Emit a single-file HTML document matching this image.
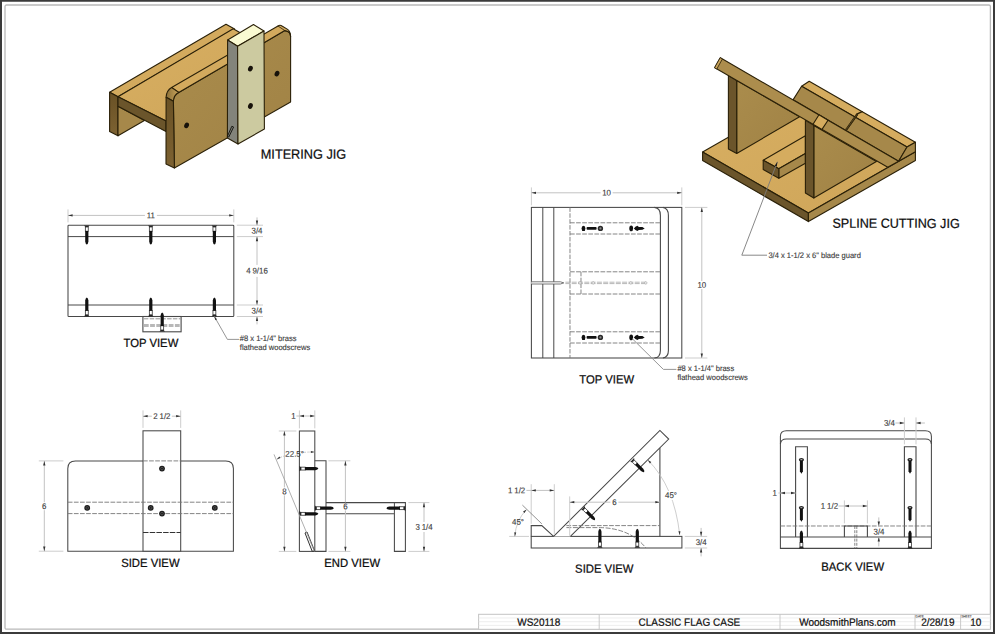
<!DOCTYPE html>
<html lang="en"><head><meta charset="utf-8"><title>Classic Flag Case - Jigs</title>
<style>
html,body{margin:0;padding:0;background:#fff;}
body{width:1000px;height:634px;overflow:hidden;}
svg{display:block;font-family:"Liberation Sans",Arial,Helvetica,sans-serif;}
.d text{word-spacing:-0.3px;}
</style></head><body>
<svg width="1000" height="634" viewBox="0 0 1000 634">
<rect x="0" y="0" width="1000" height="634" fill="#fff"/>
<path d="M0,0 H995 V634 H0 Z M2,1.8 V632 H993 V1.8 Z" fill="#3b3b3b" fill-rule="evenodd"/>
<rect x="5" y="5" width="985.4" height="624.2" rx="1.5" fill="none" stroke="#b9b9b9" stroke-width="1.3"/>
<rect x="478.6" y="614.3" width="511.8" height="15" fill="#fff" stroke="#c4c4c4" stroke-width="1"/>
<line x1="478.6" y1="618.0" x2="990.4" y2="618.0" stroke="#e6e6e6" stroke-width="0.7"/>
<line x1="478.6" y1="621.7" x2="990.4" y2="621.7" stroke="#e6e6e6" stroke-width="0.7"/>
<line x1="478.6" y1="625.4" x2="990.4" y2="625.4" stroke="#e6e6e6" stroke-width="0.7"/>
<line x1="599.2" y1="614.3" x2="599.2" y2="629.3" stroke="#c4c4c4" stroke-width="0.9"/>
<line x1="780" y1="614.3" x2="780" y2="629.3" stroke="#c4c4c4" stroke-width="0.9"/>
<line x1="915" y1="614.3" x2="915" y2="629.3" stroke="#c4c4c4" stroke-width="0.9"/>
<line x1="960.6" y1="614.3" x2="960.6" y2="629.3" stroke="#c4c4c4" stroke-width="0.9"/>
<text font-size="10" fill="#0c0c0c" text-anchor="middle" transform="translate(538.8 625.7) rotate(0.05) scale(1 1.05)" stroke="#0c0c0c" stroke-width="0.18">WS20118</text>
<text font-size="10" fill="#0c0c0c" text-anchor="middle" transform="translate(689.4 625.7) rotate(0.05) scale(1 1.05)" stroke="#0c0c0c" stroke-width="0.18">CLASSIC FLAG CASE</text>
<text font-size="10" fill="#0c0c0c" text-anchor="middle" transform="translate(847.4 625.7) rotate(0.05) scale(1 1.05)" stroke="#0c0c0c" stroke-width="0.18">WoodsmithPlans.com</text>
<text font-size="10" fill="#0c0c0c" text-anchor="middle" transform="translate(937.8 625.7) rotate(0.05) scale(1 1.05)" stroke="#0c0c0c" stroke-width="0.18">2/28/19</text>
<text font-size="10" fill="#0c0c0c" text-anchor="middle" transform="translate(975.7 625.7) rotate(0.05) scale(1 1.05)" stroke="#0c0c0c" stroke-width="0.18">10</text>
<text font-size="3.2" fill="#444" text-anchor="start" transform="translate(915.6 617.5) rotate(0.05) scale(1 1.05)" stroke="#3a3a3a" stroke-width="0.12">DATE</text>
<text font-size="3.2" fill="#444" text-anchor="start" transform="translate(961.2 617.5) rotate(0.05) scale(1 1.05)" stroke="#3a3a3a" stroke-width="0.12">SHEET</text>
<text font-size="12.7" fill="#0c0c0c" text-anchor="start" transform="translate(260.8 158.8) rotate(0.05) scale(1 1.05)" stroke="#0c0c0c" stroke-width="0.22">MITERING JIG</text>
<text font-size="12.6" fill="#0c0c0c" text-anchor="start" transform="translate(832.4 227.8) rotate(0.05) scale(1 1.05)" stroke="#0c0c0c" stroke-width="0.22">SPLINE CUTTING JIG</text>
<text font-size="11.3" fill="#0c0c0c" text-anchor="start" transform="translate(123.5 347.0) rotate(0.05) scale(1 1.05)" stroke="#0c0c0c" stroke-width="0.22">TOP VIEW</text>
<text font-size="11.3" fill="#0c0c0c" text-anchor="start" transform="translate(121.2 567.0) rotate(0.05) scale(1 1.05)" stroke="#0c0c0c" stroke-width="0.22">SIDE VIEW</text>
<text font-size="11.3" fill="#0c0c0c" text-anchor="start" transform="translate(324.3 567.0) rotate(0.05) scale(1 1.05)" stroke="#0c0c0c" stroke-width="0.22">END VIEW</text>
<text font-size="11.3" fill="#0c0c0c" text-anchor="start" transform="translate(579.3 383.4) rotate(0.05) scale(1 1.05)" stroke="#0c0c0c" stroke-width="0.22">TOP VIEW</text>
<text font-size="11.3" fill="#0c0c0c" text-anchor="start" transform="translate(575.1 572.8) rotate(0.05) scale(1 1.05)" stroke="#0c0c0c" stroke-width="0.22">SIDE VIEW</text>
<text font-size="11.3" fill="#0c0c0c" text-anchor="start" transform="translate(821.3 570.7) rotate(0.05) scale(1 1.05)" stroke="#0c0c0c" stroke-width="0.22">BACK VIEW</text>
<g class="d" transform="translate(0.4,0.4)">
<rect x="67.6" y="224.8" width="165.8" height="91.3" rx="0.8" fill="#fff" stroke="#484848" stroke-width="1.05"/>
<line x1="67.6" y1="236.2" x2="233.4" y2="236.2" stroke="#484848" stroke-width="1.0"/>
<line x1="67.6" y1="304.6" x2="233.4" y2="304.6" stroke="#484848" stroke-width="1.0"/>
<rect x="142.5" y="316.1" width="38.2" height="15.3" fill="#fff" stroke="#484848" stroke-width="1.1"/>
<line x1="143.5" y1="318.4" x2="180" y2="318.4" stroke="#777" stroke-width="0.8" stroke-dasharray="4.5 1.3"/>
<line x1="143.5" y1="325.0" x2="180" y2="325.0" stroke="#b8b8b8" stroke-width="3.0" stroke-dasharray="4.8 1.4"/>
<g transform="translate(86.4,225.0) rotate(90)"><path d="M0,-2.7 L0,2.7 L1.8,1.3 L1.8,-1.3 Z" fill="#222"/><rect x="1.6" y="-1.45" width="4.2" height="2.9" fill="#fff" stroke="#333" stroke-width="0.8"/><path d="M5.6,-1.6 L16,-1.6 Q18.5,-1.3 19,0 Q18.5,1.3 16,1.6 L5.6,1.6 Z" fill="#111"/></g>
<g transform="translate(86.4,316.0) rotate(270)"><path d="M0,-2.7 L0,2.7 L1.8,1.3 L1.8,-1.3 Z" fill="#222"/><rect x="1.6" y="-1.45" width="4.2" height="2.9" fill="#fff" stroke="#333" stroke-width="0.8"/><path d="M5.6,-1.6 L16,-1.6 Q18.5,-1.3 19,0 Q18.5,1.3 16,1.6 L5.6,1.6 Z" fill="#111"/></g>
<g transform="translate(150.4,225.0) rotate(90)"><path d="M0,-2.7 L0,2.7 L1.8,1.3 L1.8,-1.3 Z" fill="#222"/><rect x="1.6" y="-1.45" width="4.2" height="2.9" fill="#fff" stroke="#333" stroke-width="0.8"/><path d="M5.6,-1.6 L16,-1.6 Q18.5,-1.3 19,0 Q18.5,1.3 16,1.6 L5.6,1.6 Z" fill="#111"/></g>
<g transform="translate(150.4,316.0) rotate(270)"><path d="M0,-2.7 L0,2.7 L1.8,1.3 L1.8,-1.3 Z" fill="#222"/><rect x="1.6" y="-1.45" width="4.2" height="2.9" fill="#fff" stroke="#333" stroke-width="0.8"/><path d="M5.6,-1.6 L16,-1.6 Q18.5,-1.3 19,0 Q18.5,1.3 16,1.6 L5.6,1.6 Z" fill="#111"/></g>
<g transform="translate(214.0,225.0) rotate(90)"><path d="M0,-2.7 L0,2.7 L1.8,1.3 L1.8,-1.3 Z" fill="#222"/><rect x="1.6" y="-1.45" width="4.2" height="2.9" fill="#fff" stroke="#333" stroke-width="0.8"/><path d="M5.6,-1.6 L16,-1.6 Q18.5,-1.3 19,0 Q18.5,1.3 16,1.6 L5.6,1.6 Z" fill="#111"/></g>
<g transform="translate(214.0,316.0) rotate(270)"><path d="M0,-2.7 L0,2.7 L1.8,1.3 L1.8,-1.3 Z" fill="#222"/><rect x="1.6" y="-1.45" width="4.2" height="2.9" fill="#fff" stroke="#333" stroke-width="0.8"/><path d="M5.6,-1.6 L16,-1.6 Q18.5,-1.3 19,0 Q18.5,1.3 16,1.6 L5.6,1.6 Z" fill="#111"/></g>
<g transform="translate(161.8,331.2) rotate(270)"><path d="M0,-2.7 L0,2.7 L1.8,1.3 L1.8,-1.3 Z" fill="#222"/><rect x="1.6" y="-1.45" width="4.2" height="2.9" fill="#fff" stroke="#333" stroke-width="0.8"/><path d="M5.6,-1.6 L16,-1.6 Q18.5,-1.3 19,0 Q18.5,1.3 16,1.6 L5.6,1.6 Z" fill="#111"/></g>
<line x1="67.6" y1="209" x2="67.6" y2="222" stroke="#cdcdcd" stroke-width="1.0"/>
<line x1="233.4" y1="209" x2="233.4" y2="222" stroke="#cdcdcd" stroke-width="1.0"/>
<line x1="67.6" y1="215" x2="144.5" y2="215" stroke="#c2c2c2" stroke-width="1.0"/>
<line x1="156.5" y1="215" x2="233.4" y2="215" stroke="#c2c2c2" stroke-width="1.0"/>
<polygon points="67.60,215.00 72.20,213.85 72.20,216.15" fill="#333"/>
<polygon points="233.40,215.00 228.80,216.15 228.80,213.85" fill="#333"/>
<text font-size="7.9" fill="#3a3a3a" text-anchor="middle" transform="translate(150.5 217.75) rotate(0.05) scale(1 1.05)" stroke="#3a3a3a" stroke-width="0.12">11</text>
<line x1="236.4" y1="224.8" x2="262.6" y2="224.8" stroke="#cdcdcd" stroke-width="1.0"/>
<line x1="236.4" y1="236.2" x2="262.6" y2="236.2" stroke="#cdcdcd" stroke-width="1.0"/>
<line x1="236.4" y1="304.6" x2="262.6" y2="304.6" stroke="#cdcdcd" stroke-width="1.0"/>
<line x1="236.4" y1="316.1" x2="262.6" y2="316.1" stroke="#cdcdcd" stroke-width="1.0"/>
<line x1="256.6" y1="217" x2="256.6" y2="224.8" stroke="#c2c2c2" stroke-width="1.0"/>
<polygon points="256.60,224.80 255.45,220.20 257.75,220.20" fill="#333"/>
<line x1="256.6" y1="236.2" x2="256.6" y2="264.5" stroke="#c2c2c2" stroke-width="1.0"/>
<polygon points="256.60,236.20 257.75,240.80 255.45,240.80" fill="#333"/>
<line x1="256.6" y1="276.5" x2="256.6" y2="304.6" stroke="#c2c2c2" stroke-width="1.0"/>
<polygon points="256.60,304.60 255.45,300.00 257.75,300.00" fill="#333"/>
<line x1="256.6" y1="316.1" x2="256.6" y2="324" stroke="#c2c2c2" stroke-width="1.0"/>
<polygon points="256.60,316.10 257.75,320.70 255.45,320.70" fill="#333"/>
<text font-size="7.9" fill="#3a3a3a" text-anchor="middle" transform="translate(256.6 233.2) rotate(0.05) scale(1 1.05)" stroke="#3a3a3a" stroke-width="0.12">3/4</text>
<text font-size="7.9" fill="#3a3a3a" text-anchor="middle" transform="translate(256.6 273.2) rotate(0.05) scale(1 1.05)" stroke="#3a3a3a" stroke-width="0.12">4 9/16</text>
<text font-size="7.9" fill="#3a3a3a" text-anchor="middle" transform="translate(256.6 313.0) rotate(0.05) scale(1 1.05)" stroke="#3a3a3a" stroke-width="0.12">3/4</text>
<path d="M213.8,315.8 L227,339 L238.6,339" stroke="#8a8a8a" stroke-width="0.9" fill="none"/>
<polygon points="213.80,315.80 216.65,318.78 214.91,319.77" fill="#333"/>
<text font-size="7.55" fill="#3a3a3a" text-anchor="start" transform="translate(239.4 340.6) rotate(0.05) scale(1 1.05)" style="word-spacing:0" stroke="#3a3a3a" stroke-width="0.12">#8 x 1-1/4" brass</text>
<text font-size="7.55" fill="#3a3a3a" text-anchor="start" transform="translate(239.4 349.6) rotate(0.05) scale(1 1.05)" style="word-spacing:0" stroke="#3a3a3a" stroke-width="0.12">flathead woodscrews</text>
</g>
<g class="d" transform="translate(0.4,0.4)">
<path d="M67.4,550.8 V468 Q67.4,460.5 75,460.5 H225.4 Q233,460.5 233,468 V550.8 Z" stroke="#484848" stroke-width="1.05" fill="#fff"/>
<rect x="142.6" y="430.4" width="37.7" height="120.4" fill="#fff" stroke="#484848" stroke-width="1.05"/>
<line x1="67.4" y1="501.8" x2="233" y2="501.8" stroke="#777" stroke-width="0.9" stroke-dasharray="4.7 1.4"/>
<line x1="67.4" y1="513.2" x2="233" y2="513.2" stroke="#777" stroke-width="0.9" stroke-dasharray="4.7 1.4"/>
<line x1="142.6" y1="460.5" x2="180.3" y2="460.5" stroke="#777" stroke-width="0.9" stroke-dasharray="4.7 1.4"/>
<line x1="142.6" y1="532.1" x2="180.3" y2="532.1" stroke="#333" stroke-width="1.1" stroke-dasharray="5.5 1.2"/>
<circle cx="86.8" cy="507.5" r="2.9" fill="#1c1c1c"/>
<circle cx="86.8" cy="507.5" r="1.305" fill="none" stroke="#777" stroke-width="0.5"/>
<circle cx="150.3" cy="507.5" r="2.9" fill="#1c1c1c"/>
<circle cx="150.3" cy="507.5" r="1.305" fill="none" stroke="#777" stroke-width="0.5"/>
<circle cx="214.4" cy="507.5" r="2.9" fill="#1c1c1c"/>
<circle cx="214.4" cy="507.5" r="1.305" fill="none" stroke="#777" stroke-width="0.5"/>
<circle cx="161.6" cy="468.2" r="2.9" fill="#1c1c1c"/>
<circle cx="161.6" cy="468.2" r="1.305" fill="none" stroke="#777" stroke-width="0.5"/>
<circle cx="161.6" cy="513.2" r="2.9" fill="#1c1c1c"/>
<circle cx="161.6" cy="513.2" r="1.305" fill="none" stroke="#777" stroke-width="0.5"/>
<line x1="142.6" y1="410" x2="142.6" y2="427.5" stroke="#cdcdcd" stroke-width="1.0"/>
<line x1="180.3" y1="410" x2="180.3" y2="427.5" stroke="#cdcdcd" stroke-width="1.0"/>
<line x1="142.6" y1="415.8" x2="151.45" y2="415.8" stroke="#c2c2c2" stroke-width="1.0"/>
<line x1="171.45" y1="415.8" x2="180.3" y2="415.8" stroke="#c2c2c2" stroke-width="1.0"/>
<polygon points="142.60,415.80 147.20,414.65 147.20,416.95" fill="#333"/>
<polygon points="180.30,415.80 175.70,416.95 175.70,414.65" fill="#333"/>
<text font-size="7.9" fill="#3a3a3a" text-anchor="middle" transform="translate(161.45 418.55) rotate(0.05) scale(1 1.05)" stroke="#3a3a3a" stroke-width="0.12">2 1/2</text>
<line x1="38.4" y1="460.5" x2="63" y2="460.5" stroke="#cdcdcd" stroke-width="1.0"/>
<line x1="38.4" y1="550.8" x2="63" y2="550.8" stroke="#cdcdcd" stroke-width="1.0"/>
<line x1="43.9" y1="460.5" x2="43.9" y2="501.8" stroke="#c2c2c2" stroke-width="1.0"/>
<line x1="43.9" y1="509.8" x2="43.9" y2="550.8" stroke="#c2c2c2" stroke-width="1.0"/>
<polygon points="43.90,460.50 45.05,465.10 42.75,465.10" fill="#333"/>
<polygon points="43.90,550.80 42.75,546.20 45.05,546.20" fill="#333"/>
<text font-size="7.9" fill="#3a3a3a" text-anchor="middle" transform="translate(43.9 508.55) rotate(0.05) scale(1 1.05)" stroke="#3a3a3a" stroke-width="0.12">6</text>
</g>
<g class="d" transform="translate(0.4,0.4)">
<rect x="299" y="430.6" width="15.4" height="120.4" fill="#fff" stroke="#484848" stroke-width="1.05"/>
<path d="M314.4,460.4 H325.6 V551 H314.4" stroke="#484848" stroke-width="1.05" fill="none"/>
<path d="M325.6,502.2 H405 V551 H394 V513.4 H325.6" stroke="#484848" stroke-width="1.05" fill="none"/>
<line x1="394" y1="502.2" x2="394" y2="513.4" stroke="#484848" stroke-width="1.0"/>
<path d="M304.6,532.6 L306.6,531.6 L314.2,550.6 L311.8,550.9 Z" stroke="#333" stroke-width="1.0" fill="none"/>
<g transform="translate(299,468.2) rotate(0)"><path d="M0,-2.7 L0,2.7 L1.8,1.3 L1.8,-1.3 Z" fill="#222"/><rect x="1.6" y="-1.45" width="4.2" height="2.9" fill="#fff" stroke="#333" stroke-width="0.8"/><path d="M5.6,-1.6 L16,-1.6 Q18.5,-1.3 19,0 Q18.5,1.3 16,1.6 L5.6,1.6 Z" fill="#111"/></g>
<g transform="translate(299,513.4) rotate(0)"><path d="M0,-2.7 L0,2.7 L1.8,1.3 L1.8,-1.3 Z" fill="#222"/><rect x="1.6" y="-1.45" width="4.2" height="2.9" fill="#fff" stroke="#333" stroke-width="0.8"/><path d="M5.6,-1.6 L16,-1.6 Q18.5,-1.3 19,0 Q18.5,1.3 16,1.6 L5.6,1.6 Z" fill="#111"/></g>
<g transform="translate(314.4,507.8) rotate(0)"><path d="M0,-2.7 L0,2.7 L1.8,1.3 L1.8,-1.3 Z" fill="#222"/><rect x="1.6" y="-1.45" width="4.2" height="2.9" fill="#fff" stroke="#333" stroke-width="0.8"/><path d="M5.6,-1.6 L16,-1.6 Q18.5,-1.3 19,0 Q18.5,1.3 16,1.6 L5.6,1.6 Z" fill="#111"/></g>
<g transform="translate(405,507.8) rotate(180)"><path d="M0,-2.7 L0,2.7 L1.8,1.3 L1.8,-1.3 Z" fill="#222"/><rect x="1.6" y="-1.45" width="4.2" height="2.9" fill="#fff" stroke="#333" stroke-width="0.8"/><path d="M5.6,-1.6 L16,-1.6 Q18.5,-1.3 19,0 Q18.5,1.3 16,1.6 L5.6,1.6 Z" fill="#111"/></g>
<line x1="299" y1="410" x2="299" y2="428" stroke="#cdcdcd" stroke-width="1.0"/>
<line x1="314.4" y1="410" x2="314.4" y2="428" stroke="#cdcdcd" stroke-width="1.0"/>
<line x1="299" y1="415.6" x2="314.4" y2="415.6" stroke="#c2c2c2" stroke-width="1.0"/>
<polygon points="299.00,415.60 303.60,414.45 303.60,416.75" fill="#333"/>
<polygon points="314.40,415.60 309.80,416.75 309.80,414.45" fill="#333"/>
<line x1="296" y1="415.6" x2="299" y2="415.6" stroke="#c2c2c2" stroke-width="1.0"/>
<text font-size="7.9" fill="#3a3a3a" text-anchor="middle" transform="translate(293 418.4) rotate(0.05) scale(1 1.05)" stroke="#3a3a3a" stroke-width="0.12">1</text>
<line x1="278.4" y1="430.6" x2="296" y2="430.6" stroke="#cdcdcd" stroke-width="1.0"/>
<line x1="278.4" y1="551" x2="296" y2="551" stroke="#cdcdcd" stroke-width="1.0"/>
<line x1="284" y1="430.6" x2="284" y2="487" stroke="#c2c2c2" stroke-width="1.0"/>
<line x1="284" y1="495" x2="284" y2="551" stroke="#c2c2c2" stroke-width="1.0"/>
<polygon points="284.00,430.60 285.15,435.20 282.85,435.20" fill="#333"/>
<polygon points="284.00,551.00 282.85,546.40 285.15,546.40" fill="#333"/>
<text font-size="7.9" fill="#3a3a3a" text-anchor="middle" transform="translate(284 493.75) rotate(0.05) scale(1 1.05)" stroke="#3a3a3a" stroke-width="0.12">8</text>
<line x1="328" y1="460.4" x2="350" y2="460.4" stroke="#cdcdcd" stroke-width="1.0"/>
<line x1="328" y1="551" x2="350" y2="551" stroke="#cdcdcd" stroke-width="1.0"/>
<line x1="345" y1="460.4" x2="345" y2="502" stroke="#c2c2c2" stroke-width="1.0"/>
<line x1="345" y1="510" x2="345" y2="551" stroke="#c2c2c2" stroke-width="1.0"/>
<polygon points="345.00,460.40 346.15,465.00 343.85,465.00" fill="#333"/>
<polygon points="345.00,551.00 343.85,546.40 346.15,546.40" fill="#333"/>
<text font-size="7.9" fill="#3a3a3a" text-anchor="middle" transform="translate(345 508.75) rotate(0.05) scale(1 1.05)" stroke="#3a3a3a" stroke-width="0.12">6</text>
<line x1="408" y1="502.2" x2="429" y2="502.2" stroke="#cdcdcd" stroke-width="1.0"/>
<line x1="408" y1="551" x2="429" y2="551" stroke="#cdcdcd" stroke-width="1.0"/>
<line x1="423.6" y1="502.2" x2="423.6" y2="521.6" stroke="#c2c2c2" stroke-width="1.0"/>
<line x1="423.6" y1="531.6" x2="423.6" y2="551" stroke="#c2c2c2" stroke-width="1.0"/>
<polygon points="423.60,502.20 424.75,506.80 422.45,506.80" fill="#333"/>
<polygon points="423.60,551.00 422.45,546.40 424.75,546.40" fill="#333"/>
<text font-size="7.9" fill="#3a3a3a" text-anchor="middle" transform="translate(423.6 529.35) rotate(0.05) scale(1 1.05)" stroke="#3a3a3a" stroke-width="0.12">3 1/4</text>
<line x1="273.6" y1="454" x2="314" y2="551" stroke="#9a9a9a" stroke-width="0.8"/>
<path d="M276.2,459.2 Q280,456.5 286,455" stroke="#c2c2c2" stroke-width="0.8" fill="none" stroke-dasharray="2.5 1.2"/>
<path d="M303,452 Q309,451.5 314.4,451.6" stroke="#c2c2c2" stroke-width="0.8" fill="none" stroke-dasharray="2.5 1.2"/>
<polygon points="276.20,459.20 278.90,456.09 280.05,457.72" fill="#333"/>
<polygon points="314.40,451.60 310.40,452.60 310.40,450.60" fill="#333"/>
<text font-size="7.9" fill="#3a3a3a" text-anchor="middle" transform="translate(294.2 456.4) rotate(0.05) scale(1 1.05)" stroke="#3a3a3a" stroke-width="0.12">22.5°</text>
</g>
<g class="d" transform="translate(0.4,0.4)">
<rect x="531" y="207" width="150.4" height="150.6" fill="#fff" stroke="#484848" stroke-width="1.05"/>
<line x1="542.4" y1="207" x2="542.4" y2="357.6" stroke="#484848" stroke-width="1.0"/>
<line x1="553.4" y1="207" x2="553.4" y2="357.6" stroke="#484848" stroke-width="1.0"/>
<path d="M654,207 Q660,207.5 660,215 V350 Q660,357 654,357.6" stroke="#484848" stroke-width="1.1" fill="none"/>
<path d="M662.5,207 Q668,208 668,215 V350 Q668,356.6 662.5,357.6" stroke="#484848" stroke-width="1.1" fill="none"/>
<line x1="569.6" y1="207" x2="569.6" y2="357.6" stroke="#777" stroke-width="0.9" stroke-dasharray="4.5 1.4"/>
<line x1="569.6" y1="222.4" x2="660" y2="222.4" stroke="#777" stroke-width="0.9" stroke-dasharray="4.7 1.4"/>
<line x1="569.6" y1="233.6" x2="660" y2="233.6" stroke="#777" stroke-width="0.9" stroke-dasharray="4.7 1.4"/>
<line x1="569.6" y1="271.4" x2="660" y2="271.4" stroke="#777" stroke-width="0.9" stroke-dasharray="4.7 1.4"/>
<line x1="569.6" y1="293.6" x2="660" y2="293.6" stroke="#777" stroke-width="0.9" stroke-dasharray="4.7 1.4"/>
<line x1="569.6" y1="331.4" x2="660" y2="331.4" stroke="#777" stroke-width="0.9" stroke-dasharray="4.7 1.4"/>
<line x1="569.6" y1="342.6" x2="660" y2="342.6" stroke="#777" stroke-width="0.9" stroke-dasharray="4.7 1.4"/>
<line x1="580.6" y1="271.4" x2="580.6" y2="293.6" stroke="#777" stroke-width="0.9" stroke-dasharray="4.5 1.4"/>
<path d="M531,281.4 H560 L563.4,282.5 L560,283.6 H531" fill="#fff" stroke="#555" stroke-width="0.8"/>
<line x1="565" y1="281.8" x2="646" y2="281.8" stroke="#999" stroke-width="0.7" stroke-dasharray="5 1.3"/>
<line x1="565" y1="283.2" x2="646" y2="283.2" stroke="#999" stroke-width="0.7" stroke-dasharray="5 1.3"/>
<circle cx="579.6" cy="282.5" r="1.2" fill="#fff" stroke="#999" stroke-width="0.6"/>
<circle cx="592.8" cy="282.5" r="1.2" fill="#fff" stroke="#999" stroke-width="0.6"/>
<circle cx="630.4" cy="282.5" r="1.2" fill="#fff" stroke="#999" stroke-width="0.6"/>
<circle cx="645.4" cy="282.5" r="1.2" fill="#fff" stroke="#999" stroke-width="0.6"/>
<ellipse cx="583.1" cy="228" rx="1.9" ry="2.7" fill="#111"/>
<rect x="586.2" y="226.65" width="10" height="2.7" rx="0.8" fill="#111"/>
<circle cx="600" cy="228" r="2.7" fill="#2a2a2a"/>
<circle cx="600" cy="228" r="1.1" fill="#8a8a8a"/>
<ellipse cx="630.8" cy="228" rx="1.9" ry="2.8" fill="#111"/>
<path d="M633.5,228 L635,226.4 L637,225.4 L638.5,226.5 L642,226.6 L644.3,228 L642,229.4 L638.5,229.5 L637,230.6 L635,229.6 Z" fill="#111"/>
<ellipse cx="583.1" cy="337" rx="1.9" ry="2.7" fill="#111"/>
<rect x="586.2" y="335.65" width="10" height="2.7" rx="0.8" fill="#111"/>
<circle cx="600" cy="337" r="2.7" fill="#2a2a2a"/>
<circle cx="600" cy="337" r="1.1" fill="#8a8a8a"/>
<ellipse cx="630.8" cy="337" rx="1.9" ry="2.8" fill="#111"/>
<path d="M633.5,337 L635,335.4 L637,334.4 L638.5,335.5 L642,335.6 L644.3,337 L642,338.4 L638.5,338.5 L637,339.6 L635,338.6 Z" fill="#111"/>
<line x1="531" y1="187" x2="531" y2="205" stroke="#cdcdcd" stroke-width="1.0"/>
<line x1="681.4" y1="187" x2="681.4" y2="205" stroke="#cdcdcd" stroke-width="1.0"/>
<line x1="531" y1="192.4" x2="600.2" y2="192.4" stroke="#c2c2c2" stroke-width="1.0"/>
<line x1="612.2" y1="192.4" x2="681.4" y2="192.4" stroke="#c2c2c2" stroke-width="1.0"/>
<polygon points="531.00,192.40 535.60,191.25 535.60,193.55" fill="#333"/>
<polygon points="681.40,192.40 676.80,193.55 676.80,191.25" fill="#333"/>
<text font-size="7.9" fill="#3a3a3a" text-anchor="middle" transform="translate(606.2 195.15) rotate(0.05) scale(1 1.05)" stroke="#3a3a3a" stroke-width="0.12">10</text>
<line x1="684.6" y1="207" x2="707" y2="207" stroke="#cdcdcd" stroke-width="1.0"/>
<line x1="684.6" y1="357.6" x2="707" y2="357.6" stroke="#cdcdcd" stroke-width="1.0"/>
<line x1="701.4" y1="207" x2="701.4" y2="280.6" stroke="#c2c2c2" stroke-width="1.0"/>
<line x1="701.4" y1="288.6" x2="701.4" y2="357.6" stroke="#c2c2c2" stroke-width="1.0"/>
<polygon points="701.40,207.00 702.55,211.60 700.25,211.60" fill="#333"/>
<polygon points="701.40,357.60 700.25,353.00 702.55,353.00" fill="#333"/>
<text font-size="7.9" fill="#3a3a3a" text-anchor="middle" transform="translate(701.4 287.35) rotate(0.05) scale(1 1.05)" stroke="#3a3a3a" stroke-width="0.12">10</text>
<path d="M632,338.4 L663,369 L676,369" stroke="#8a8a8a" stroke-width="0.9" fill="none"/>
<text font-size="7.55" fill="#3a3a3a" text-anchor="start" transform="translate(677.0 370.6) rotate(0.05) scale(1 1.05)" style="word-spacing:0" stroke="#3a3a3a" stroke-width="0.12">#8 x 1-1/4" brass</text>
<text font-size="7.55" fill="#3a3a3a" text-anchor="start" transform="translate(677.0 379.6) rotate(0.05) scale(1 1.05)" style="word-spacing:0" stroke="#3a3a3a" stroke-width="0.12">flathead woodscrews</text>
</g>
<g class="d" transform="translate(0.4,0.4)">
<rect x="530.8" y="536" width="150.7" height="11.6" fill="#fff" stroke="#484848" stroke-width="1.05"/>
<path d="M530.8,536 V525.2 H541.4 L553.2,536" stroke="#484848" stroke-width="1.05" fill="none"/>
<path d="M553.2,536 L659.5,430 L668.3,438.7 L570,536" stroke="#484848" stroke-width="1.05" fill="#fff"/>
<line x1="659.5" y1="447.5" x2="659.5" y2="536" stroke="#484848" stroke-width="1.1"/>
<line x1="566" y1="525.2" x2="659.5" y2="525.2" stroke="#777" stroke-width="0.9" stroke-dasharray="4.7 1.4"/>
<path d="M566,527.2 H600 Q630,528 645.5,547.6" stroke="#666" stroke-width="0.8" fill="none" stroke-dasharray="5 1.5"/>
<g transform="translate(599.5,547.4) rotate(270)"><path d="M0,-2.7 L0,2.7 L1.8,1.3 L1.8,-1.3 Z" fill="#222"/><rect x="1.6" y="-1.45" width="4.2" height="2.9" fill="#fff" stroke="#333" stroke-width="0.8"/><path d="M5.6,-1.6 L16,-1.6 Q18.5,-1.3 19,0 Q18.5,1.3 16,1.6 L5.6,1.6 Z" fill="#111"/></g>
<g transform="translate(636.9,547.4) rotate(270)"><path d="M0,-2.7 L0,2.7 L1.8,1.3 L1.8,-1.3 Z" fill="#222"/><rect x="1.6" y="-1.45" width="4.2" height="2.9" fill="#fff" stroke="#333" stroke-width="0.8"/><path d="M5.6,-1.6 L16,-1.6 Q18.5,-1.3 19,0 Q18.5,1.3 16,1.6 L5.6,1.6 Z" fill="#111"/></g>
<g transform="translate(631.8,459.6) rotate(45)"><path d="M0,-2.7 L0,2.7 L1.8,1.3 L1.8,-1.3 Z" fill="#222"/><rect x="1.6" y="-1.45" width="4.2" height="2.9" fill="#fff" stroke="#333" stroke-width="0.8"/><path d="M5.6,-1.6 L14,-1.6 Q16.5,-1.3 17,0 Q16.5,1.3 14,1.6 L5.6,1.6 Z" fill="#111"/></g>
<g transform="translate(582.6,507.6) rotate(45)"><path d="M0,-2.7 L0,2.7 L1.8,1.3 L1.8,-1.3 Z" fill="#222"/><rect x="1.6" y="-1.45" width="4.2" height="2.9" fill="#fff" stroke="#333" stroke-width="0.8"/><path d="M5.6,-1.6 L14,-1.6 Q16.5,-1.3 17,0 Q16.5,1.3 14,1.6 L5.6,1.6 Z" fill="#111"/></g>
<line x1="530.8" y1="483.8" x2="530.8" y2="523.4" stroke="#cdcdcd" stroke-width="1.0"/>
<line x1="553.9" y1="483.8" x2="553.9" y2="534.4" stroke="#cdcdcd" stroke-width="1.0"/>
<line x1="526" y1="490" x2="530.8" y2="490" stroke="#c2c2c2" stroke-width="1.0"/>
<line x1="530.8" y1="490" x2="553.9" y2="490" stroke="#c2c2c2" stroke-width="1.0"/>
<polygon points="530.80,490.00 535.40,488.85 535.40,491.15" fill="#333"/>
<polygon points="553.90,490.00 549.30,491.15 549.30,488.85" fill="#333"/>
<text font-size="7.9" fill="#3a3a3a" text-anchor="middle" transform="translate(516.2 492.8) rotate(0.05) scale(1 1.05)" stroke="#3a3a3a" stroke-width="0.12">1 1/2</text>
<line x1="569.3" y1="496" x2="569.3" y2="535.4" stroke="#cdcdcd" stroke-width="1.0"/>
<line x1="569.3" y1="501.8" x2="610" y2="501.8" stroke="#c2c2c2" stroke-width="1.0"/>
<line x1="618" y1="501.8" x2="659.5" y2="501.8" stroke="#c2c2c2" stroke-width="1.0"/>
<polygon points="569.30,501.80 573.90,500.65 573.90,502.95" fill="#333"/>
<polygon points="659.50,501.80 654.90,502.95 654.90,500.65" fill="#333"/>
<text font-size="7.9" fill="#3a3a3a" text-anchor="middle" transform="translate(614 504.55) rotate(0.05) scale(1 1.05)" stroke="#3a3a3a" stroke-width="0.12">6</text>
<line x1="508.8" y1="536" x2="528.6" y2="536" stroke="#cdcdcd" stroke-width="1.0"/>
<line x1="522" y1="504.7" x2="541.4" y2="523.4" stroke="#777" stroke-width="0.8"/>
<path d="M514.4,536 Q515.5,520 526.2,509" stroke="#c2c2c2" stroke-width="0.8" fill="none"/>
<polygon points="514.40,536.00 513.89,531.91 515.88,532.15" fill="#333"/>
<polygon points="526.20,509.00 524.08,512.54 522.66,511.12" fill="#333"/>
<text font-size="7.9" fill="#3a3a3a" text-anchor="middle" transform="translate(517.6 524.4) rotate(0.05) scale(1 1.05)" stroke="#3a3a3a" stroke-width="0.12">45°</text>
<path d="M647.4,459.6 Q674,486 679.3,534.4" stroke="#c2c2c2" stroke-width="0.8" fill="none" stroke-dasharray="0"/>
<polygon points="647.40,459.60 650.94,461.72 649.52,463.14" fill="#333"/>
<polygon points="679.30,534.80 678.02,530.88 680.02,530.74" fill="#333"/>
<rect x="663.5" y="490.5" width="14" height="9" fill="#fff"/>
<text font-size="7.9" fill="#3a3a3a" text-anchor="middle" transform="translate(670.6 497.6) rotate(0.05) scale(1 1.05)" stroke="#3a3a3a" stroke-width="0.12">45°</text>
<line x1="684.4" y1="536" x2="706.8" y2="536" stroke="#cdcdcd" stroke-width="1.0"/>
<line x1="684.4" y1="547.6" x2="706.8" y2="547.6" stroke="#cdcdcd" stroke-width="1.0"/>
<line x1="700.7" y1="527.5" x2="700.7" y2="536" stroke="#c2c2c2" stroke-width="1.0"/>
<polygon points="700.70,536.00 699.55,531.40 701.85,531.40" fill="#333"/>
<line x1="700.7" y1="547.6" x2="700.7" y2="556" stroke="#c2c2c2" stroke-width="1.0"/>
<polygon points="700.70,547.60 701.85,552.20 699.55,552.20" fill="#333"/>
<text font-size="7.9" fill="#3a3a3a" text-anchor="middle" transform="translate(700.7 544.6) rotate(0.05) scale(1 1.05)" stroke="#3a3a3a" stroke-width="0.12">3/4</text>
</g>
<g class="d" transform="translate(0.4,0.4)">
<path d="M780,548 V436 Q780,430.4 786,430.4 H925 Q931,430.4 931,436 V548 Z" stroke="#484848" stroke-width="1.05" fill="#fff"/>
<path d="M780,443.6 Q780.4,438.6 786,438.6 H925 Q930.6,438.6 931,443.6" stroke="#484848" stroke-width="1.1" fill="none"/>
<line x1="780" y1="536.6" x2="931" y2="536.6" stroke="#484848" stroke-width="1.1"/>
<path d="M795.2,536.6 V446.4 H807 V536.6" stroke="#484848" stroke-width="1.1" fill="none"/>
<path d="M904,536.6 V446.4 H915.6 V536.6" stroke="#484848" stroke-width="1.1" fill="none"/>
<line x1="780" y1="525.6" x2="931" y2="525.6" stroke="#777" stroke-width="0.9" stroke-dasharray="4.7 1.4"/>
<path d="M844,536.6 V525.6 H867 V536.6" stroke="#484848" stroke-width="1.1" fill="none"/>
<line x1="854.4" y1="525.6" x2="854.4" y2="548" stroke="#666" stroke-width="0.8" stroke-dasharray="3 1.2"/>
<line x1="856.4" y1="525.6" x2="856.4" y2="548" stroke="#666" stroke-width="0.8" stroke-dasharray="3 1.2"/>
<ellipse cx="801" cy="459.4" rx="2.6" ry="1.7" fill="#222"/>
<ellipse cx="801" cy="459.2" rx="1.2" ry="0.6" fill="#aaa"/>
<path d="M799.5,460.59999999999997 H802.5 V470.9 L801,473.4 L799.5,470.9 Z" fill="#111"/>
<ellipse cx="801" cy="507.4" rx="2.6" ry="1.7" fill="#222"/>
<ellipse cx="801" cy="507.2" rx="1.2" ry="0.6" fill="#aaa"/>
<path d="M799.5,508.59999999999997 H802.5 V518.9 L801,521.4 L799.5,518.9 Z" fill="#111"/>
<g transform="translate(801,548) rotate(270)"><path d="M0,-2.7 L0,2.7 L1.8,1.3 L1.8,-1.3 Z" fill="#222"/><rect x="1.6" y="-1.45" width="4.2" height="2.9" fill="#fff" stroke="#333" stroke-width="0.8"/><path d="M5.6,-1.6 L15,-1.6 Q17.5,-1.3 18,0 Q17.5,1.3 15,1.6 L5.6,1.6 Z" fill="#111"/></g>
<ellipse cx="909.6" cy="459.4" rx="2.6" ry="1.7" fill="#222"/>
<ellipse cx="909.6" cy="459.2" rx="1.2" ry="0.6" fill="#aaa"/>
<path d="M908.1,460.59999999999997 H911.1 V470.9 L909.6,473.4 L908.1,470.9 Z" fill="#111"/>
<ellipse cx="909.6" cy="507.4" rx="2.6" ry="1.7" fill="#222"/>
<ellipse cx="909.6" cy="507.2" rx="1.2" ry="0.6" fill="#aaa"/>
<path d="M908.1,508.59999999999997 H911.1 V518.9 L909.6,521.4 L908.1,518.9 Z" fill="#111"/>
<g transform="translate(909.6,548) rotate(270)"><path d="M0,-2.7 L0,2.7 L1.8,1.3 L1.8,-1.3 Z" fill="#222"/><rect x="1.6" y="-1.45" width="4.2" height="2.9" fill="#fff" stroke="#333" stroke-width="0.8"/><path d="M5.6,-1.6 L15,-1.6 Q17.5,-1.3 18,0 Q17.5,1.3 15,1.6 L5.6,1.6 Z" fill="#111"/></g>
<line x1="904" y1="417" x2="904" y2="444" stroke="#cdcdcd" stroke-width="1.0"/>
<line x1="915.6" y1="417" x2="915.6" y2="444" stroke="#cdcdcd" stroke-width="1.0"/>
<line x1="895" y1="422.6" x2="904" y2="422.6" stroke="#c2c2c2" stroke-width="1.0"/>
<polygon points="904.00,422.60 899.40,423.75 899.40,421.45" fill="#333"/>
<line x1="915.6" y1="422.6" x2="924.5" y2="422.6" stroke="#c2c2c2" stroke-width="1.0"/>
<polygon points="915.60,422.60 920.20,421.45 920.20,423.75" fill="#333"/>
<text font-size="7.9" fill="#3a3a3a" text-anchor="middle" transform="translate(889 425.4) rotate(0.05) scale(1 1.05)" stroke="#3a3a3a" stroke-width="0.12">3/4</text>
<line x1="778" y1="492.6" x2="795.2" y2="492.6" stroke="#c2c2c2" stroke-width="1.0"/>
<polygon points="780.00,492.60 784.60,491.45 784.60,493.75" fill="#333"/>
<polygon points="795.20,492.60 790.60,493.75 790.60,491.45" fill="#333"/>
<text font-size="7.9" fill="#3a3a3a" text-anchor="middle" transform="translate(774.4 495.4) rotate(0.05) scale(1 1.05)" stroke="#3a3a3a" stroke-width="0.12">1</text>
<line x1="844" y1="500" x2="844" y2="523" stroke="#cdcdcd" stroke-width="1.0"/>
<line x1="867" y1="500" x2="867" y2="523" stroke="#cdcdcd" stroke-width="1.0"/>
<line x1="838" y1="505.6" x2="867" y2="505.6" stroke="#c2c2c2" stroke-width="1.0"/>
<polygon points="844.00,505.60 848.60,504.45 848.60,506.75" fill="#333"/>
<polygon points="867.00,505.60 862.40,506.75 862.40,504.45" fill="#333"/>
<text font-size="7.9" fill="#3a3a3a" text-anchor="middle" transform="translate(829 508.4) rotate(0.05) scale(1 1.05)" stroke="#3a3a3a" stroke-width="0.12">1 1/2</text>
<line x1="878.4" y1="517" x2="878.4" y2="525.6" stroke="#c2c2c2" stroke-width="1.0"/>
<polygon points="878.40,525.60 877.25,521.00 879.55,521.00" fill="#333"/>
<line x1="878.4" y1="536.6" x2="878.4" y2="546" stroke="#c2c2c2" stroke-width="1.0"/>
<polygon points="878.40,536.60 879.55,541.20 877.25,541.20" fill="#333"/>
<text font-size="7.9" fill="#3a3a3a" text-anchor="middle" transform="translate(878.6 534.0) rotate(0.05) scale(1 1.05)" stroke="#3a3a3a" stroke-width="0.12">3/4</text>
</g>
<defs>
<linearGradient id="gfront" x1="0" y1="0" x2="1" y2="1"><stop offset="0" stop-color="#aa8c4c"/><stop offset="1" stop-color="#a08245"/></linearGradient>
<linearGradient id="gtop" x1="0" y1="0" x2="1" y2="1"><stop offset="0" stop-color="#d8af62"/><stop offset="1" stop-color="#cea559"/></linearGradient>
<linearGradient id="gside" x1="0" y1="0" x2="0" y2="1"><stop offset="0" stop-color="#695125"/><stop offset="1" stop-color="#7d6232"/></linearGradient>
<linearGradient id="gcorner" x1="0" y1="0" x2="1" y2="0"><stop offset="0" stop-color="#8a7038"/><stop offset="1" stop-color="#c9a35a"/></linearGradient>
</defs>
<g stroke-linejoin="round" stroke-linecap="round">
<polygon points="109.6,92.2 226,24.3 234.6,29 118,96.8" fill="url(#gtop)" stroke="#2a2008" stroke-width="1.1" stroke-linejoin="round"/>
<polygon points="109.6,92.2 118,96.8 118,135.8 109.6,131.4" fill="url(#gside)" stroke="#2a2008" stroke-width="1.1" stroke-linejoin="round"/>
<polygon points="118,106.3 144.4,120.4 118,135.8" fill="#a6884a" stroke="#2a2008" stroke-width="1.1" stroke-linejoin="round"/>
<polygon points="118,96.8 233.2,28.7 239.8,32.4 282,55 166,121" fill="url(#gtop)" stroke="#2a2008" stroke-width="1.1" stroke-linejoin="round"/>
<polygon points="118,96.8 166,121 166,131.6 118,106.3" fill="#6b552b" stroke="#2a2008" stroke-width="1.1" stroke-linejoin="round"/>
<path d="M173.4,101.2 Q173.6,95 178.7,92.4 L284.8,30.6 Q290.6,31 290.6,36.5 L290.6,102 L174.4,168 Z" stroke="#2a2008" stroke-width="1.1" fill="url(#gfront)"/>
<path d="M171.6,87.5 L278,26 Q280,24.6 282,26 L287.6,29.4 Q290.4,31.4 290.6,36.5 Q290.4,31.2 284.8,30.6 L178.7,92.4 Z" stroke="#2a2008" stroke-width="1.1" fill="url(#gtop)"/>
<line x1="278" y1="26" x2="284.8" y2="30.6" stroke="#2a2008" stroke-width="0.8"/>
<path d="M166.1,97.2 Q166.4,90.6 171.6,87.5 L178.7,92.4 Q173.6,95 173.4,101.2 Z" stroke="#2a2008" stroke-width="1.1" fill="url(#gcorner)"/>
<polygon points="166.1,97.2 173.4,101.2 174.4,168 166,164" fill="url(#gside)" stroke="#2a2008" stroke-width="1.1" stroke-linejoin="round"/>
<polygon points="227.6,40 253.5,24.5 264,31 237.6,46.3" fill="#fafad2" stroke="#2a2008" stroke-width="1.1" stroke-linejoin="round"/>
<polygon points="227.6,40 237.6,46.3 238,144 227.4,138" fill="#83847b" stroke="#2a2008" stroke-width="1.1" stroke-linejoin="round"/>
<polygon points="237.6,46.3 264,31 264.4,129 238,144" fill="#cccaa0" stroke="#2a2008" stroke-width="1.1" stroke-linejoin="round"/>
<path d="M232.2,126.4 L233.6,127 L228.8,137 L227.8,136.4 Z" stroke="#1c1c16" stroke-width="1.0" fill="#7c7d74"/>
<ellipse cx="186.6" cy="125.4" rx="2.3" ry="2.9" fill="#17120a" transform="rotate(25 186.6 125.4)"/>
<ellipse cx="277" cy="73.6" rx="2.3" ry="2.9" fill="#17120a" transform="rotate(25 277 73.6)"/>
<ellipse cx="250.4" cy="68.6" rx="2.3" ry="2.9" fill="#17120a" transform="rotate(25 250.4 68.6)"/>
<ellipse cx="250.4" cy="106" rx="2.3" ry="2.9" fill="#17120a" transform="rotate(25 250.4 106)"/>
</g>
<g stroke-linejoin="round" stroke-linecap="round">
<polygon points="702.6,152 809.6,90.8 915.4,151.8 808.4,213" fill="url(#gtop)" stroke="#2a2008" stroke-width="1.1" stroke-linejoin="round"/>
<polygon points="702.6,152 808.4,213 808.4,221.6 702.6,160.4" fill="#6b552b" stroke="#2a2008" stroke-width="1.1" stroke-linejoin="round"/>
<polygon points="808.4,213 915.4,151.8 915.4,160.6 808.4,221.6" fill="#a6884a" stroke="#2a2008" stroke-width="1.1" stroke-linejoin="round"/>
<polygon points="809.2,81.2 915.4,142.2 907,147 801.6,86.2" fill="#d5ac5f" stroke="#2a2008" stroke-width="1.1" stroke-linejoin="round"/>
<polygon points="801.6,86.2 907,147 898.6,161.2 793.2,99.6" fill="#a6884a" stroke="#2a2008" stroke-width="1.1" stroke-linejoin="round"/>
<polygon points="907,147 915.4,142.2 915.4,151.8 898.6,161.2" fill="#a6884a" stroke="#2a2008" stroke-width="1.1" stroke-linejoin="round"/>
<polygon points="856.8,114.2 857.8,114.8 846.8,130.2 846,129.6" fill="#4a3a18" stroke="#2a2008" stroke-width="0.9" stroke-linejoin="round"/>
<line x1="856.8" y1="114.2" x2="862.2" y2="111.6" stroke="#2a2008" stroke-width="1.3"/>
<polygon points="736.7,80.4 799.6,116.8 736.7,153.4" fill="url(#gfront)" stroke="#2a2008" stroke-width="1.1" stroke-linejoin="round"/>
<polygon points="728.4,75.6 736.7,80.4 736.7,153.4 728.4,149" fill="#6b552b" stroke="#2a2008" stroke-width="1.1" stroke-linejoin="round"/>
<polygon points="763.2,160.2 805.4,135.8 805.4,153.6 778.8,168.8" fill="#d5ac5f" stroke="#2a2008" stroke-width="1.1" stroke-linejoin="round"/>
<polygon points="778.8,168.8 805.4,153.6 805.4,163.2 778.8,178.2" fill="#a6884a" stroke="#2a2008" stroke-width="1.1" stroke-linejoin="round"/>
<polygon points="763.2,160.2 778.8,168.8 778.8,178.2 763.2,169.4" fill="#6b552b" stroke="#2a2008" stroke-width="1.1" stroke-linejoin="round"/>
<polygon points="813.8,125.4 876.4,161.6 813.8,198" fill="url(#gfront)" stroke="#2a2008" stroke-width="1.1" stroke-linejoin="round"/>
<polygon points="805.4,120.4 813.8,125.4 813.8,198 805.4,193" fill="#6b552b" stroke="#2a2008" stroke-width="1.1" stroke-linejoin="round"/>
<polygon points="720.4,57.8 898.6,161.2 887.8,167.2 714.8,67.8" fill="#ac8d4d" stroke="#2a2008" stroke-width="1.1" stroke-linejoin="round"/>
<polygon points="720.4,57.8 722.4,59 716.8,69 714.8,67.8" fill="#c9a45c" stroke="#2a2008" stroke-width="0.8" stroke-linejoin="round"/>
<polygon points="819,114.8 828,120.2 822,129.4 813,124.2" fill="#d5ac5f" stroke="#2a2008" stroke-width="1.1" stroke-linejoin="round"/>
</g>
<path d="M777.4,161.8 L741.8,255.2 L767,255.2" stroke="#7a7a7a" stroke-width="0.9" fill="none"/>
<polygon points="777.40,161.80 776.79,166.49 774.74,165.71" fill="#1a1a1a"/>
<text font-size="7.55" fill="#3a3a3a" text-anchor="start" transform="translate(768.4 258) rotate(0.05) scale(1 1.05)" stroke="#3a3a3a" stroke-width="0.12">3/4 x 1-1/2 x 6" blade guard</text>
</svg></body></html>
